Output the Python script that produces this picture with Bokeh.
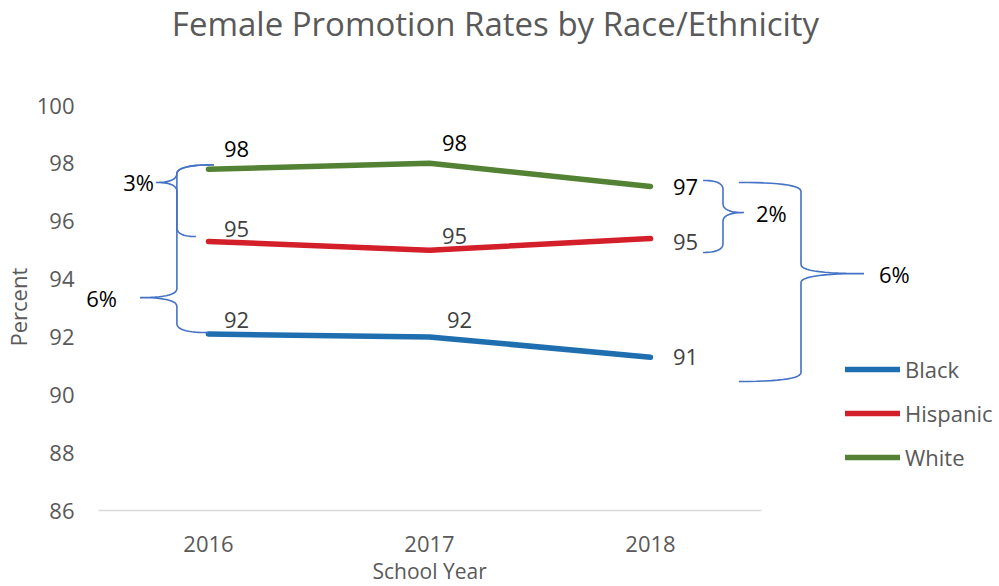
import numpy as np
from bokeh.plotting import figure
from bokeh.models import Range1d, FixedTicker, Label, ColumnDataSource, Title
from bokeh.core.properties import value
from bokeh.embed import file_html
from bokeh.resources import INLINE

# ---------------- data ----------------
chart_title = "Female Promotion Rates by Race/Ethnicity"
years = ["2016", "2017", "2018"]
series_names = ["Black", "Hispanic", "White"]
black = [92.1, 92.0, 91.3]
hispanic = [95.3, 95.0, 95.4]
white = [97.8, 98.0, 97.2]
y_ticks = [86, 88, 90, 92, 94, 96, 98, 100]
x_title = "School Year"
y_title = "Percent"

# ---------------- styles ----------------
FONT = "Open Sans"
GRAY = "#595959"
colors = {"Black": "#1F6FB0", "Hispanic": "#D21F2A", "White": "#548235"}
label_colors = {"Black": "#404040", "Hispanic": "#404040", "White": "#000000"}
# per-point label offsets (pixels)
label_dx = {"Black": [28, 30, 35], "Hispanic": [28, 25, 35], "White": [28, 25, 35]}
label_dy = {"Black": [-14, -17, 0], "Hispanic": [-12, -14, 3], "White": [-20, -20, 0]}
BRACE = "#4472C4"

series = {"Black": black, "Hispanic": hispanic, "White": white}
xs = list(range(len(years)))
y_min, y_max = y_ticks[0], y_ticks[-1]

W, H = 999, 586
LEFT, BOTTOM = 84, 76
PLOT_TOP_PX = 105            # where the value axis top (100) sits
px_per_x = 221.0
px_per_y = (H - BOTTOM - PLOT_TOP_PX) / (y_max - y_min)
first_cat_px = 208.0
x0 = (LEFT - first_cat_px) / px_per_x
x1 = x0 + (W - LEFT) / px_per_x
y1 = y_max + PLOT_TOP_PX / px_per_y

p = figure(width=W, height=H, output_backend="svg", toolbar_location=None,
           title=None, x_range=Range1d(x0, x1), y_range=Range1d(y_min, y1),
           min_border_left=LEFT, min_border_right=0, min_border_top=0,
           min_border_bottom=BOTTOM, outline_line_color=None,
           background_fill_color="white", border_fill_color="white")
p.xgrid.visible = False
p.ygrid.visible = False

# axes
p.xaxis.ticker = FixedTicker(ticks=xs)
p.xaxis.bounds = (xs[0] - 0.5, xs[-1] + 0.5)
p.xaxis.major_label_overrides = {i: y for i, y in enumerate(years)}
p.xaxis.axis_line_color = "#D9D9D9"
p.xaxis.axis_line_width = 1.5
p.xaxis.major_tick_line_color = None
p.xaxis.minor_tick_line_color = None
p.xaxis.major_label_standoff = 19
p.xaxis.major_label_text_font = FONT
p.xaxis.major_label_text_font_size = "22px"
p.xaxis.major_label_text_color = GRAY

p.yaxis.ticker = FixedTicker(ticks=y_ticks)
p.yaxis.bounds = (y_min, y_max)
p.yaxis.axis_line_color = None
p.yaxis.major_tick_line_color = None
p.yaxis.minor_tick_line_color = None
p.yaxis.major_label_standoff = 4
p.yaxis.major_label_text_font = FONT
p.yaxis.major_label_text_font_size = "22px"
p.yaxis.major_label_text_color = GRAY

# axis titles (positioned on the value/category extent, not the whole frame)
p.add_layout(Title(text=x_title, align="left", offset=288, standoff=0,
                   text_font=FONT, text_font_size="21px", text_font_style="normal",
                   text_color=GRAY), "below")
p.add_layout(Title(text=y_title, align="left", offset=164, standoff=0,
                   vertical_align="middle",
                   text_font=FONT, text_font_size="22px", text_font_style="normal",
                   text_color=GRAY), "left")

# chart title (drawn inside the plotting area, above the value range)
p.text(x=[float(np.mean(xs))], y=[y1], text=[chart_title], x_offset=66, y_offset=23,
       text_font=value(FONT), text_font_size="33px", text_align="center",
       text_baseline="middle", text_color=GRAY)

# series lines
for name in series_names:
    p.line(xs, series[name], line_color=colors[name], line_width=5.5,
           line_cap="round", line_join="round", legend_label=name)

# data labels
for name in series_names:
    vals = series[name]
    src = ColumnDataSource(dict(x=xs, y=vals, t=[str(int(round(v))) for v in vals],
                                dx=label_dx[name], dy=label_dy[name]))
    p.text(x="x", y="y", text="t", x_offset="dx", y_offset="dy", source=src,
           text_font=value(FONT), text_font_size="22px", text_align="center",
           text_baseline="middle", text_color=label_colors[name])

# ---------------- braces ----------------
ypx = 1.0 / px_per_y  # data units per pixel (y)


def quad(p0, c, p1, n=14):
    t = np.linspace(0, 1, n)
    bx = (1 - t) ** 2 * p0[0] + 2 * (1 - t) * t * c[0] + t ** 2 * p1[0]
    by = (1 - t) ** 2 * p0[1] + 2 * (1 - t) * t * c[1] + t ** 2 * p1[1]
    return list(bx), list(by)


def brace(xt_top, y_top, xt_bot, y_bot, x_sp, x_mid, y_mid, r_px=9):
    r = r_px * ypx
    X, Y = [], []
    for seg in [quad((xt_top, y_top), (x_sp, y_top), (x_sp, y_top - r)),
                ([x_sp, x_sp], [y_top - r, y_mid + r]),
                quad((x_sp, y_mid + r), (x_sp, y_mid), (x_mid, y_mid)),
                quad((x_mid, y_mid), (x_sp, y_mid), (x_sp, y_mid - r)),
                ([x_sp, x_sp], [y_mid - r, y_bot + r]),
                quad((x_sp, y_bot + r), (x_sp, y_bot), (xt_bot, y_bot))]:
        X += list(seg[0])
        Y += list(seg[1])
    return X, Y


r16 = {n: int(round(series[n][0])) for n in series_names}
r18 = {n: int(round(series[n][2])) for n in series_names}
braces = [
    # left 3% (White vs Hispanic, 2016)
    dict(xt_top=xs[0] + 0.025, y_top=white[0] + 0.15, xt_bot=xs[0] - 0.057,
         y_bot=hispanic[0] + 0.17, x_sp=xs[0] - 0.143, x_mid=xs[0] - 0.238,
         y_mid=97.34, text=f"{r16['White'] - r16['Hispanic']}%", side="left", dx=-2),
    # left 6% (White vs Black, 2016)
    dict(xt_top=xs[0] + 0.025, y_top=white[0] + 0.15, xt_bot=xs[0] - 0.002,
         y_bot=black[0] + 0.05, x_sp=xs[0] - 0.143, x_mid=xs[0] - 0.31,
         y_mid=93.36, text=f"{r16['White'] - r16['Black']}%", side="left", dx=-23),
    # right 2% (White vs Hispanic, 2018)
    dict(xt_top=xs[2] + 0.238, y_top=white[2] + 0.21, xt_bot=xs[2] + 0.238,
         y_bot=hispanic[2] - 0.48, x_sp=xs[2] + 0.328, x_mid=xs[2] + 0.423,
         y_mid=96.30, text=f"{r18['White'] - r18['Hispanic']}%", side="right", dx=12),
    # right 6% (White vs Black, 2018)
    dict(xt_top=xs[2] + 0.40, y_top=white[2] + 0.14, xt_bot=xs[2] + 0.40,
         y_bot=black[2] - 0.84, x_sp=xs[2] + 0.681, x_mid=xs[2] + 0.966,
         y_mid=94.19, text=f"{r18['White'] - r18['Black']}%", side="right", dx=15),
]
for b in braces:
    bx, by = brace(b["xt_top"], b["y_top"], b["xt_bot"], b["y_bot"],
                   b["x_sp"], b["x_mid"], b["y_mid"])
    p.line(bx, by, line_color=BRACE, line_width=1.6)
    p.add_layout(Label(x=b["x_mid"], y=b["y_mid"], x_offset=b["dx"], text=b["text"],
                       text_font=FONT, text_font_size="22px", text_color="#000000",
                       text_align="right" if b["side"] == "left" else "left",
                       text_baseline="middle"))

# legend
lg = p.legend[0]
lg.location = (845 - LEFT, 38)
lg.orientation = "vertical"
lg.background_fill_alpha = 0
lg.border_line_color = None
lg.padding = 0
lg.margin = 0
lg.spacing = 14
lg.glyph_width = 55
lg.glyph_height = 22
lg.label_height = 22
lg.label_standoff = 5
lg.label_text_font = FONT
lg.label_text_font_size = "22px"
lg.label_text_color = GRAY

open("out.html", "w").write(file_html(p, INLINE))
